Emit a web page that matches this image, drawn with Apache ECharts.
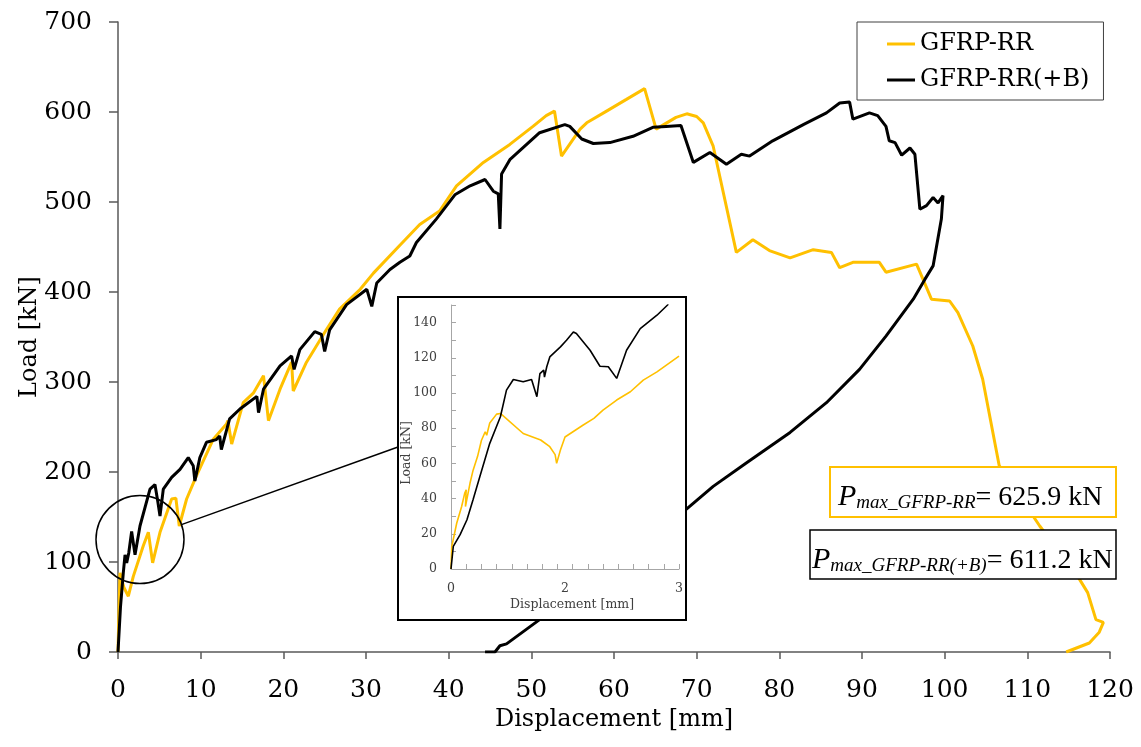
<!DOCTYPE html>
<html>
<head>
<meta charset="utf-8">
<script src="https://cdn.jsdelivr.net/npm/echarts@6/dist/echarts.min.js"></script>
<style>
  html, body { margin: 0; padding: 0; background: #fff; }
  #chart { width: 1141px; height: 747px; }
</style>
</head>
<body>
<div id="chart"></div>
<script>
// GFRP-RR (yellow) - main plot
var rrX = [0, 0.1, 0.24, 0.7, 1.25, 1.85, 3.06, 3.67, 4.19, 5.08, 6.49, 7.0, 7.41, 8.3, 9.5, 11.5, 13.1, 13.3, 13.75, 15.15, 16.4, 17.6, 18.2, 19.6, 21.0, 21.2, 22.8, 25.2, 26.8, 29.3, 30.9, 34.1, 36.5, 38.9, 40.95, 44.2, 47.4, 50.2, 51.8, 52.8, 53.65, 55.9, 56.7, 59.1, 61.5, 63.7, 65.1, 67.5, 68.8, 70.0, 70.8, 72.0, 74.8, 76.8, 78.8, 81.3, 84.1, 86.3, 87.3, 88.9, 92.1, 92.9, 96.6, 98.4, 100.6, 101.6, 103.4, 104.6, 106.6, 111.5, 116.3, 117.3, 118.3, 119.2, 118.7, 117.5, 114.7];
var rrY = [0, 40, 88, 72, 62, 84, 118, 133, 99, 133, 170, 171, 140, 170, 196, 236, 253, 257, 231, 277, 288, 307, 257, 292, 322, 290, 322, 358, 381, 403, 421, 452, 475, 490, 518, 544, 564, 584, 596, 601, 551, 581, 588, 601, 614, 626, 581, 594, 598, 595, 588, 562, 444, 458, 446, 438, 447, 444, 427, 433, 433, 422, 431, 392, 390, 377, 340, 303, 207, 140, 81, 66, 36, 33, 22, 10, 0];

// GFRP-RR(+B) (black) - main plot
var bX = [0, 0.3, 0.64, 0.85, 1.05, 1.3, 1.65, 2.06, 2.66, 3.87, 4.47, 4.8, 5.08, 5.48, 6.49, 7.5, 8.5, 9.1, 9.3, 9.9, 10.7, 11.9, 12.3, 12.5, 13.5, 14.75, 16.8, 17.0, 17.6, 19.6, 21.0, 21.3, 22.0, 23.8, 24.6, 25.0, 25.6, 27.65, 30.1, 30.7, 31.3, 32.9, 34.1, 35.3, 36.1, 38.5, 40.75, 42.6, 44.4, 45.4, 46.0, 46.2, 46.4, 47.4, 49.2, 51.0, 54.05, 54.65, 56.1, 57.5, 59.5, 62.3, 64.7, 66.3, 68.1, 69.6, 71.6, 73.6, 75.4, 76.4, 79.2, 82.9, 85.7, 87.3, 88.5, 88.9, 90.9, 91.9, 92.9, 93.3, 94.0, 94.8, 95.8, 96.4, 97.0, 97.8, 98.6, 99.2, 99.8, 99.6, 98.6, 97.6, 96.2, 92.9, 89.7, 85.7, 81.3, 76.0, 72.0, 68.8, 65, 60, 55, 51.0, 47.0, 46.2, 45.6, 44.4];
var bY = [0, 50, 88, 108, 99, 110, 134, 108, 140, 181, 186, 168, 151, 181, 194, 203, 216, 207, 190, 216, 233, 236, 240, 225, 259, 270, 284, 266, 292, 318, 329, 314, 336, 356, 353, 334, 358, 386, 403, 384, 410, 425, 433, 440, 455, 481, 508, 518, 525, 512, 509, 470, 531, 547, 562, 577, 586, 584, 570, 565, 566, 573, 583, 584, 585, 544, 555, 542, 553, 551, 568, 586, 599, 610, 611, 592, 599, 596, 584, 568, 566, 552, 560, 553, 492, 496, 505, 499, 507, 481, 429, 414, 392, 351, 314, 277, 244, 210, 184, 159, 131, 97, 64, 36, 9, 7, 0, 0];

// inset (first 3 mm)
var inRrX = [0, 0.01, 0.075, 0.14, 0.18, 0.2, 0.19, 0.25, 0.29, 0.35, 0.4, 0.45, 0.47, 0.51, 0.6, 0.65, 0.95, 1.18, 1.3, 1.37, 1.39, 1.44, 1.5, 1.74, 1.88, 2.0, 2.18, 2.36, 2.53, 2.71, 3.0];
var inRrY = [0, 12.8, 26, 35.5, 43, 45, 35.5, 48.7, 56, 64, 73, 78, 76, 83, 88, 88.4, 77, 73.3, 69.5, 65, 60, 67.6, 75, 81.8, 85.6, 90.3, 96, 100.7, 107.3, 112, 121];
var inBX = [0, 0.03, 0.12, 0.14, 0.21, 0.29, 0.38, 0.51, 0.65, 0.73, 0.82, 0.95, 1.06, 1.13, 1.17, 1.22, 1.23, 1.26, 1.3, 1.44, 1.52, 1.61, 1.65, 1.83, 1.96, 2.07, 2.18, 2.2, 2.31, 2.49, 2.71, 2.86];
var inBY = [0, 12.8, 19.5, 20.4, 28, 39.3, 52.5, 71.4, 86.5, 101.6, 107.7, 106.4, 107.7, 97.9, 111, 113, 109, 114.9, 120.5, 126.2, 130, 134.7, 133.8, 124.3, 115.2, 114.9, 108.3, 107.3, 124.3, 136.6, 144.2, 150.4];
var inXTickLabels = ['0', '2', '3'];

var zoomCenter = [2.66, 125];

function pairs(xs, ys) {
    return xs.map(function (x, i) { return [x, ys[i]]; });
}

var YELLOW = '#FFC000';
var SERIF = 'DejaVu Serif';
var TIMES = 'Liberation Serif';

var chart = echarts.init(document.getElementById('chart'));

var option = {
    animation: false,
    backgroundColor: '#fff',
    grid: [
        { left: 118, right: 31, top: 22, bottom: 95 },
        { left: 451, top: 305, width: 228, height: 264, z: 11 }
    ],
    legend: {
        data: ['GFRP-RR', 'GFRP-RR(+B)'],
        orient: 'vertical',
        left: 857,
        top: 22,
        padding: [10, 14, 8, 30],
        itemGap: 12,
        itemWidth: 28,
        itemHeight: 3,
        icon: 'rect',
        borderColor: '#404040',
        borderWidth: 1,
        backgroundColor: '#fff',
        textStyle: { fontFamily: SERIF, fontSize: 24, color: '#000' }
    },
    xAxis: [
        {
            gridIndex: 0, type: 'value', min: 0, max: 120, interval: 10,
            name: 'Displacement [mm]', nameLocation: 'middle', nameGap: 56,
            nameTextStyle: { fontFamily: SERIF, fontSize: 24, color: '#000' },
            axisLine: { lineStyle: { color: '#595959', width: 1.5 } },
            axisTick: { length: 7, lineStyle: { color: '#595959', width: 1.5 } },
            axisLabel: { margin: 26, fontFamily: SERIF, fontSize: 25, color: '#000' },
            splitLine: { show: false }
        },
        {
            gridIndex: 1, type: 'value', position: 'bottom', min: 0, max: 3, interval: 0.2, z: 11,
            axisLine: { lineStyle: { color: '#A6A6A6', width: 1 } },
            axisTick: { inside: true, length: 5, lineStyle: { color: '#A6A6A6' } },
            axisLabel: { show: false },
            splitLine: { show: false }
        },
        {
            gridIndex: 1, type: 'value', position: 'bottom', offset: 0, min: 0, max: 3, interval: 1.5, z: 11,
            axisLine: { show: false },
            axisTick: { show: false },
            axisLabel: {
                margin: 13, fontFamily: SERIF, fontSize: 12.5, color: '#404040',
                formatter: function (v) { return inXTickLabels[Math.round(v / 1.5)]; }
            },
            splitLine: { show: false }
        }
    ],
    yAxis: [
        {
            gridIndex: 0, type: 'value', min: 0, max: 700, interval: 100,
            name: 'Load [kN]', nameLocation: 'middle', nameGap: 76, nameMoveOverlap: false,
            nameTextStyle: { fontFamily: SERIF, fontSize: 24, color: '#000' },
            axisLine: { show: true, lineStyle: { color: '#595959', width: 1.5 } },
            axisTick: { show: true, length: 9, lineStyle: { color: '#595959', width: 1.5 } },
            axisLabel: { margin: 26, fontFamily: SERIF, fontSize: 25, color: '#000' },
            splitLine: { show: false }
        },
        {
            gridIndex: 1, type: 'value', min: 0, max: 150, interval: 10, z: 11,
            axisLine: { show: true, lineStyle: { color: '#A6A6A6', width: 1 } },
            axisTick: { show: true, inside: true, length: 5, lineStyle: { color: '#A6A6A6' } },
            axisLabel: {
                margin: 14, fontFamily: SERIF, fontSize: 12.5, color: '#404040',
                formatter: function (v) { return v % 20 === 0 ? String(v) : ''; }
            },
            splitLine: { show: false }
        }
    ],
    series: [
        {
            name: 'GFRP-RR', type: 'line', xAxisIndex: 0, yAxisIndex: 0,
            data: pairs(rrX, rrY), symbol: 'none', z: 2,
            lineStyle: { color: YELLOW, width: 3 }, itemStyle: { color: YELLOW }
        },
        {
            name: 'GFRP-RR(+B)', type: 'line', xAxisIndex: 0, yAxisIndex: 0,
            data: pairs(bX, bY), symbol: 'none', z: 3,
            lineStyle: { color: '#000', width: 3 }, itemStyle: { color: '#000' }
        },
        {
            name: 'inset RR', type: 'line', xAxisIndex: 1, yAxisIndex: 1,
            data: pairs(inRrX, inRrY), symbol: 'none', z: 12, clip: true,
            lineStyle: { color: YELLOW, width: 1.6 }
        },
        {
            name: 'inset B', type: 'line', xAxisIndex: 1, yAxisIndex: 1,
            data: pairs(inBX, inBY), symbol: 'none', z: 12, clip: true,
            lineStyle: { color: '#000', width: 1.6 }
        }
    ]
};
chart.setOption(option);

// zoom circle + connector, placed from data coords
var c = chart.convertToPixel({ gridIndex: 0 }, zoomCenter);
var r = 44;
var boxEdge = [398, 447];
var dx = boxEdge[0] - c[0], dy = boxEdge[1] - c[1];
var len = Math.sqrt(dx * dx + dy * dy);

var pRich = {
    p: { fontFamily: TIMES, fontStyle: 'italic', fontSize: 30, lineHeight: 40, verticalAlign: 'bottom', color: '#000' },
    s: { fontFamily: TIMES, fontStyle: 'italic', fontSize: 19, lineHeight: 16, verticalAlign: 'bottom', color: '#000' },
    v: { fontFamily: TIMES, fontSize: 28, lineHeight: 40, verticalAlign: 'bottom', color: '#000' }
};

chart.setOption({
    graphic: [
        {
            type: 'circle', z: 5, silent: true,
            shape: { cx: c[0], cy: c[1], r: r },
            style: { fill: null, stroke: '#000', lineWidth: 1.5 }
        },
        {
            type: 'line', z: 5, silent: true,
            shape: { x1: c[0] + dx / len * r, y1: c[1] + dy / len * r, x2: boxEdge[0], y2: boxEdge[1] },
            style: { stroke: '#000', lineWidth: 1.5 }
        },
        {
            type: 'rect', z: 10, silent: true,
            shape: { x: 398, y: 297, width: 288, height: 323 },
            style: { fill: '#fff', stroke: '#000', lineWidth: 2 }
        },
        {
            type: 'text', z: 13, silent: true, x: 407, y: 453, rotation: Math.PI / 2,
            style: { text: 'Load [kN]', fontFamily: SERIF, fontSize: 12.5, fill: '#404040', align: 'center', verticalAlign: 'middle' }
        },
        {
            type: 'text', z: 13, silent: true, x: 572, y: 605,
            style: { text: 'Displacement [mm]', fontFamily: SERIF, fontSize: 12.5, fill: '#404040', align: 'center', verticalAlign: 'middle' }
        },
        {
            type: 'rect', z: 10, silent: true,
            shape: { x: 830, y: 467, width: 286, height: 50 },
            style: { fill: '#fff', stroke: YELLOW, lineWidth: 2 }
        },
        {
            type: 'text', z: 11, silent: true, x: 838, y: 492,
            style: { text: '{p|P}{s|max_GFRP-RR}{v|= 625.9 kN}', rich: pRich, verticalAlign: 'middle', align: 'left' }
        },
        {
            type: 'rect', z: 10, silent: true,
            shape: { x: 810, y: 530, width: 306, height: 49 },
            style: { fill: '#fff', stroke: '#000', lineWidth: 1.5 }
        },
        {
            type: 'text', z: 11, silent: true, x: 812, y: 555,
            style: { text: '{p|P}{s|max_GFRP-RR(+B)}{v|= 611.2 kN}', rich: pRich, verticalAlign: 'middle', align: 'left' }
        }
    ]
});
</script>
</body>
</html>
